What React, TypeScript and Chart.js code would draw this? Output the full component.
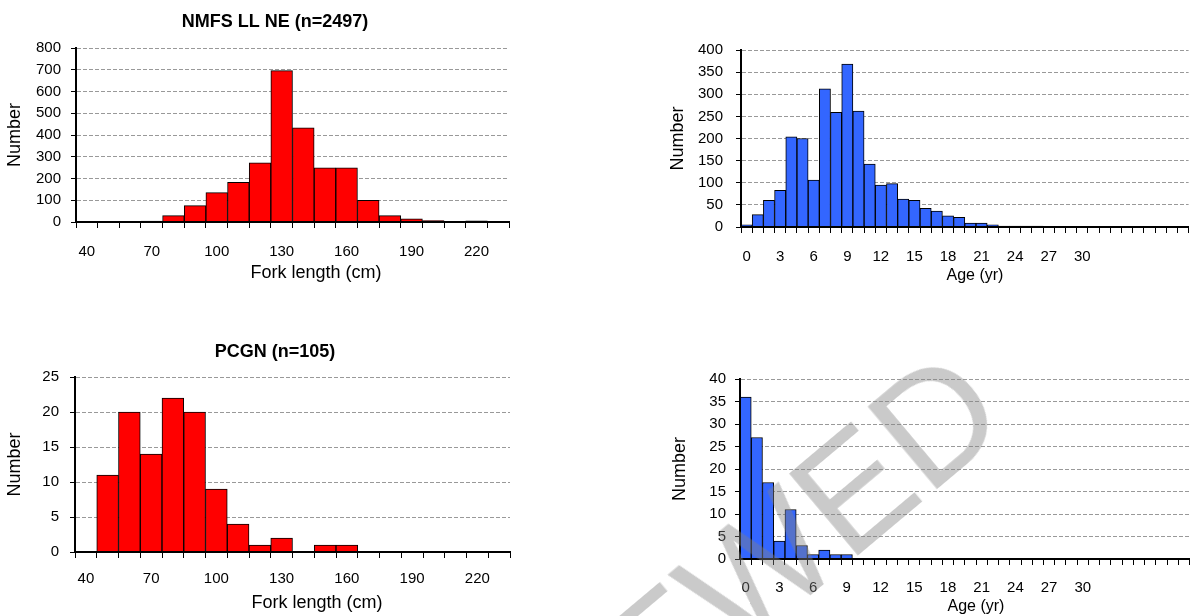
import React, { useEffect, useRef } from "react";
import { Chart, registerables } from "chart.js";

Chart.register(...registerables);

// ---------- data ----------
const lengthCategories = ["40", "50", "60", "70", "80", "90", "100", "110", "120", "130", "140", "150", "160", "170", "180", "190", "200", "210", "220", "230"];
const lengthTickLabels = ["40", "70", "100", "130", "160", "190", "220"];
const nmfsLengthCounts = [0, 0, 0, 4, 29, 75, 135, 182, 272, 696, 433, 249, 249, 100, 29, 15, 6, 0, 5, 0];
const pcgnLengthCounts = [0, 11, 20, 14, 22, 20, 9, 4, 1, 2, 0, 1, 1, 0, 0, 0, 0, 0, 0, 0];

const ageCategories = ["0", "1", "2", "3", "4", "5", "6", "7", "8", "9", "10", "11", "12", "13", "14", "15", "16", "17", "18", "19", "20", "21", "22", "23", "24", "25", "26", "27", "28", "29", "30", "31", "32", "33", "34", "35", "36", "37", "38", "39"];
const ageTickLabels = ["0", "3", "6", "9", "12", "15", "18", "21", "24", "27", "30"];
const nmfsAgeCounts = [5, 28, 60, 83, 204, 200, 106, 312, 259, 368, 262, 142, 95, 98, 63, 60, 42, 36, 25, 22, 9, 9, 5, 2, 2, 2, 2, 0, 0, 0, 0, 0, 0, 0, 0, 0, 0, 0, 0, 0];
const pcgnAgeCounts = [36, 27, 17, 4, 11, 3, 1, 2, 1, 1, 0, 0, 0, 0, 0, 0, 0, 0, 0, 0, 0, 0, 0, 0, 0, 0, 0, 0, 0, 0, 0, 0, 0, 0, 0, 0, 0, 0, 0, 0];

const nmfsTitle = "NMFS LL NE (n=2497)";
const pcgnTitle = "PCGN (n=105)";
const yAxisTitle = "Number";
const lengthAxisTitle = "Fork length (cm)";
const ageAxisTitle = "Age (yr)";
const watermarkText = "REVIEWED";

const RED = "#ff0000";
const BLUE = "#3366ff";
const FONT = "'Liberation Sans', Arial, Helvetica, sans-serif";

interface TextItem { text: string; x: number; y: number; size: number; bold?: boolean; }
interface PanelSpec {
  left: number; top: number; width: number; height: number;
  padding: { left: number; right: number; top: number; bottom: number };
  yWidth: number; xHeight: number;
  yMax: number; yStep: number;
  categories: string[]; tickLabels: string[]; values: number[]; color: string;
  yTickPad: number; xTickPad: number; yTitlePad: number;
  texts: TextItem[];
}

const panels: PanelSpec[] = [
  {
    left: 0, top: 0, width: 560, height: 300,
    padding: { left: 0, right: 51, top: 48, bottom: 38 },
    yWidth: 76, xHeight: 40, yMax: 800, yStep: 100,
    categories: lengthCategories, tickLabels: lengthTickLabels, values: nmfsLengthCounts, color: RED,
    yTickPad: 10, xTickPad: 15, yTitlePad: 4,
    texts: [
      { text: nmfsTitle, x: 275, y: 22, size: 18, bold: true },
      { text: lengthAxisTitle, x: 316, y: 273, size: 18 },
    ],
  },
  {
    left: 660, top: 0, width: 538, height: 300,
    padding: { left: 3, right: 0, top: 50, bottom: 33 },
    yWidth: 78, xHeight: 40, yMax: 400, yStep: 50,
    categories: ageCategories, tickLabels: ageTickLabels, values: nmfsAgeCounts, color: BLUE,
    yTickPad: 13, xTickPad: 15, yTitlePad: 4,
    texts: [{ text: ageAxisTitle, x: 975, y: 276, size: 16 }],
  },
  {
    left: 0, top: 300, width: 560, height: 316,
    padding: { left: 0, right: 50, top: 77, bottom: 24 },
    yWidth: 75, xHeight: 40, yMax: 25, yStep: 5,
    categories: lengthCategories, tickLabels: lengthTickLabels, values: pcgnLengthCounts, color: RED,
    yTickPad: 11, xTickPad: 12, yTitlePad: 4,
    texts: [
      { text: pcgnTitle, x: 275, y: 352, size: 18, bold: true },
      { text: lengthAxisTitle, x: 317, y: 603, size: 18 },
    ],
  },
  {
    left: 660, top: 300, width: 538, height: 316,
    padding: { left: 5, right: 0, top: 79, bottom: 17 },
    yWidth: 75, xHeight: 40, yMax: 40, yStep: 5,
    categories: ageCategories, tickLabels: ageTickLabels, values: pcgnAgeCounts, color: BLUE,
    yTickPad: 9, xTickPad: 14, yTitlePad: 4,
    texts: [{ text: ageAxisTitle, x: 976, y: 607, size: 16 }],
  },
];

function Panel({ spec }: { spec: PanelSpec }) {
  const ref = useRef<HTMLCanvasElement>(null);
  useEffect(() => {
    const textPlugin = {
      id: "panelTexts",
      afterDraw(chart: any) {
        const ctx = chart.ctx as CanvasRenderingContext2D;
        spec.texts.forEach((t) => {
          ctx.save();
          ctx.font = `${t.bold ? "bold " : ""}${t.size}px ${FONT}`;
          ctx.fillStyle = "#000";
          ctx.textAlign = "center";
          ctx.textBaseline = "middle";
          ctx.fillText(t.text, t.x - spec.left, t.y - spec.top);
          ctx.restore();
        });
      },
    };
    const chart = new Chart(ref.current as HTMLCanvasElement, {
      type: "bar",
      data: {
        labels: spec.categories,
        datasets: [
          {
            data: spec.values,
            backgroundColor: spec.color,
            borderColor: "#000",
            borderWidth: 1,
            categoryPercentage: 1,
            barPercentage: 1,
          },
        ],
      },
      options: {
        responsive: false,
        maintainAspectRatio: false,
        animation: false,
        devicePixelRatio: 1,
        layout: { padding: spec.padding },
        plugins: {
          legend: { display: false },
          tooltip: { enabled: false },
          title: { display: false },
        },
        scales: {
          x: {
            type: "category",
            offset: true,
            grid: {
              display: true,
              drawOnChartArea: false,
              drawTicks: true,
              tickLength: 6,
              tickColor: "#000",
              tickWidth: 1,
              offset: true,
            },
            border: { display: true, color: "#000", width: 2, z: 1 },
            ticks: {
              autoSkip: false,
              maxRotation: 0,
              minRotation: 0,
              padding: spec.xTickPad,
              color: "#000",
              font: { family: FONT, size: 15 },
              callback: function (this: any, value: any) {
                const lab = this.getLabelForValue(value as number);
                return spec.tickLabels.includes(lab) ? lab : "";
              },
            },
            afterFit: (scale: any) => {
              scale.height = spec.xHeight;
            },
          },
          y: {
            min: 0,
            max: spec.yMax,
            ticks: {
              stepSize: spec.yStep,
              padding: spec.yTickPad,
              color: "#000",
              font: { family: FONT, size: 15 },
            },
            grid: {
              color: (c: any) => (c.tick && c.tick.value === 0 ? "rgba(0,0,0,0)" : "#999999"),
              lineWidth: 1,
              tickColor: "#000",
              tickLength: 5,
              tickWidth: 1,
            },
            border: { display: true, color: "#000", width: 2, dash: [4, 2], z: 1 },
            title: {
              display: true,
              text: yAxisTitle,
              color: "#000",
              font: { family: FONT, size: 18 },
              padding: { top: spec.yTitlePad, bottom: 0 },
            },
            afterFit: (scale: any) => {
              scale.width = spec.yWidth;
            },
          },
        },
      } as any,
      plugins: [textPlugin],
    });
    return () => chart.destroy();
  }, []);
  return (
    <canvas
      ref={ref}
      width={spec.width}
      height={spec.height}
      style={{ position: "absolute", left: spec.left, top: spec.top, width: spec.width, height: spec.height }}
    />
  );
}

export default function App() {
  return (
    <div
      style={{
        position: "absolute",
        left: 0,
        top: 0,
        width: 1198,
        height: 616,
        overflow: "hidden",
        background: "#fff",
      }}
    >
      {panels.map((p, i) => (
        <Panel key={i} spec={p} />
      ))}
      <div
        style={{
          position: "absolute",
          left: 662,
          top: 650,
          transform: "translate(-50%, -50%) rotate(-40deg)",
          fontFamily: FONT,
          fontSize: 155,
          lineHeight: 1,
          color: "rgba(128,128,128,0.42)",
          whiteSpace: "nowrap",
          pointerEvents: "none",
        }}
      >
        {watermarkText}
      </div>
    </div>
  );
}
